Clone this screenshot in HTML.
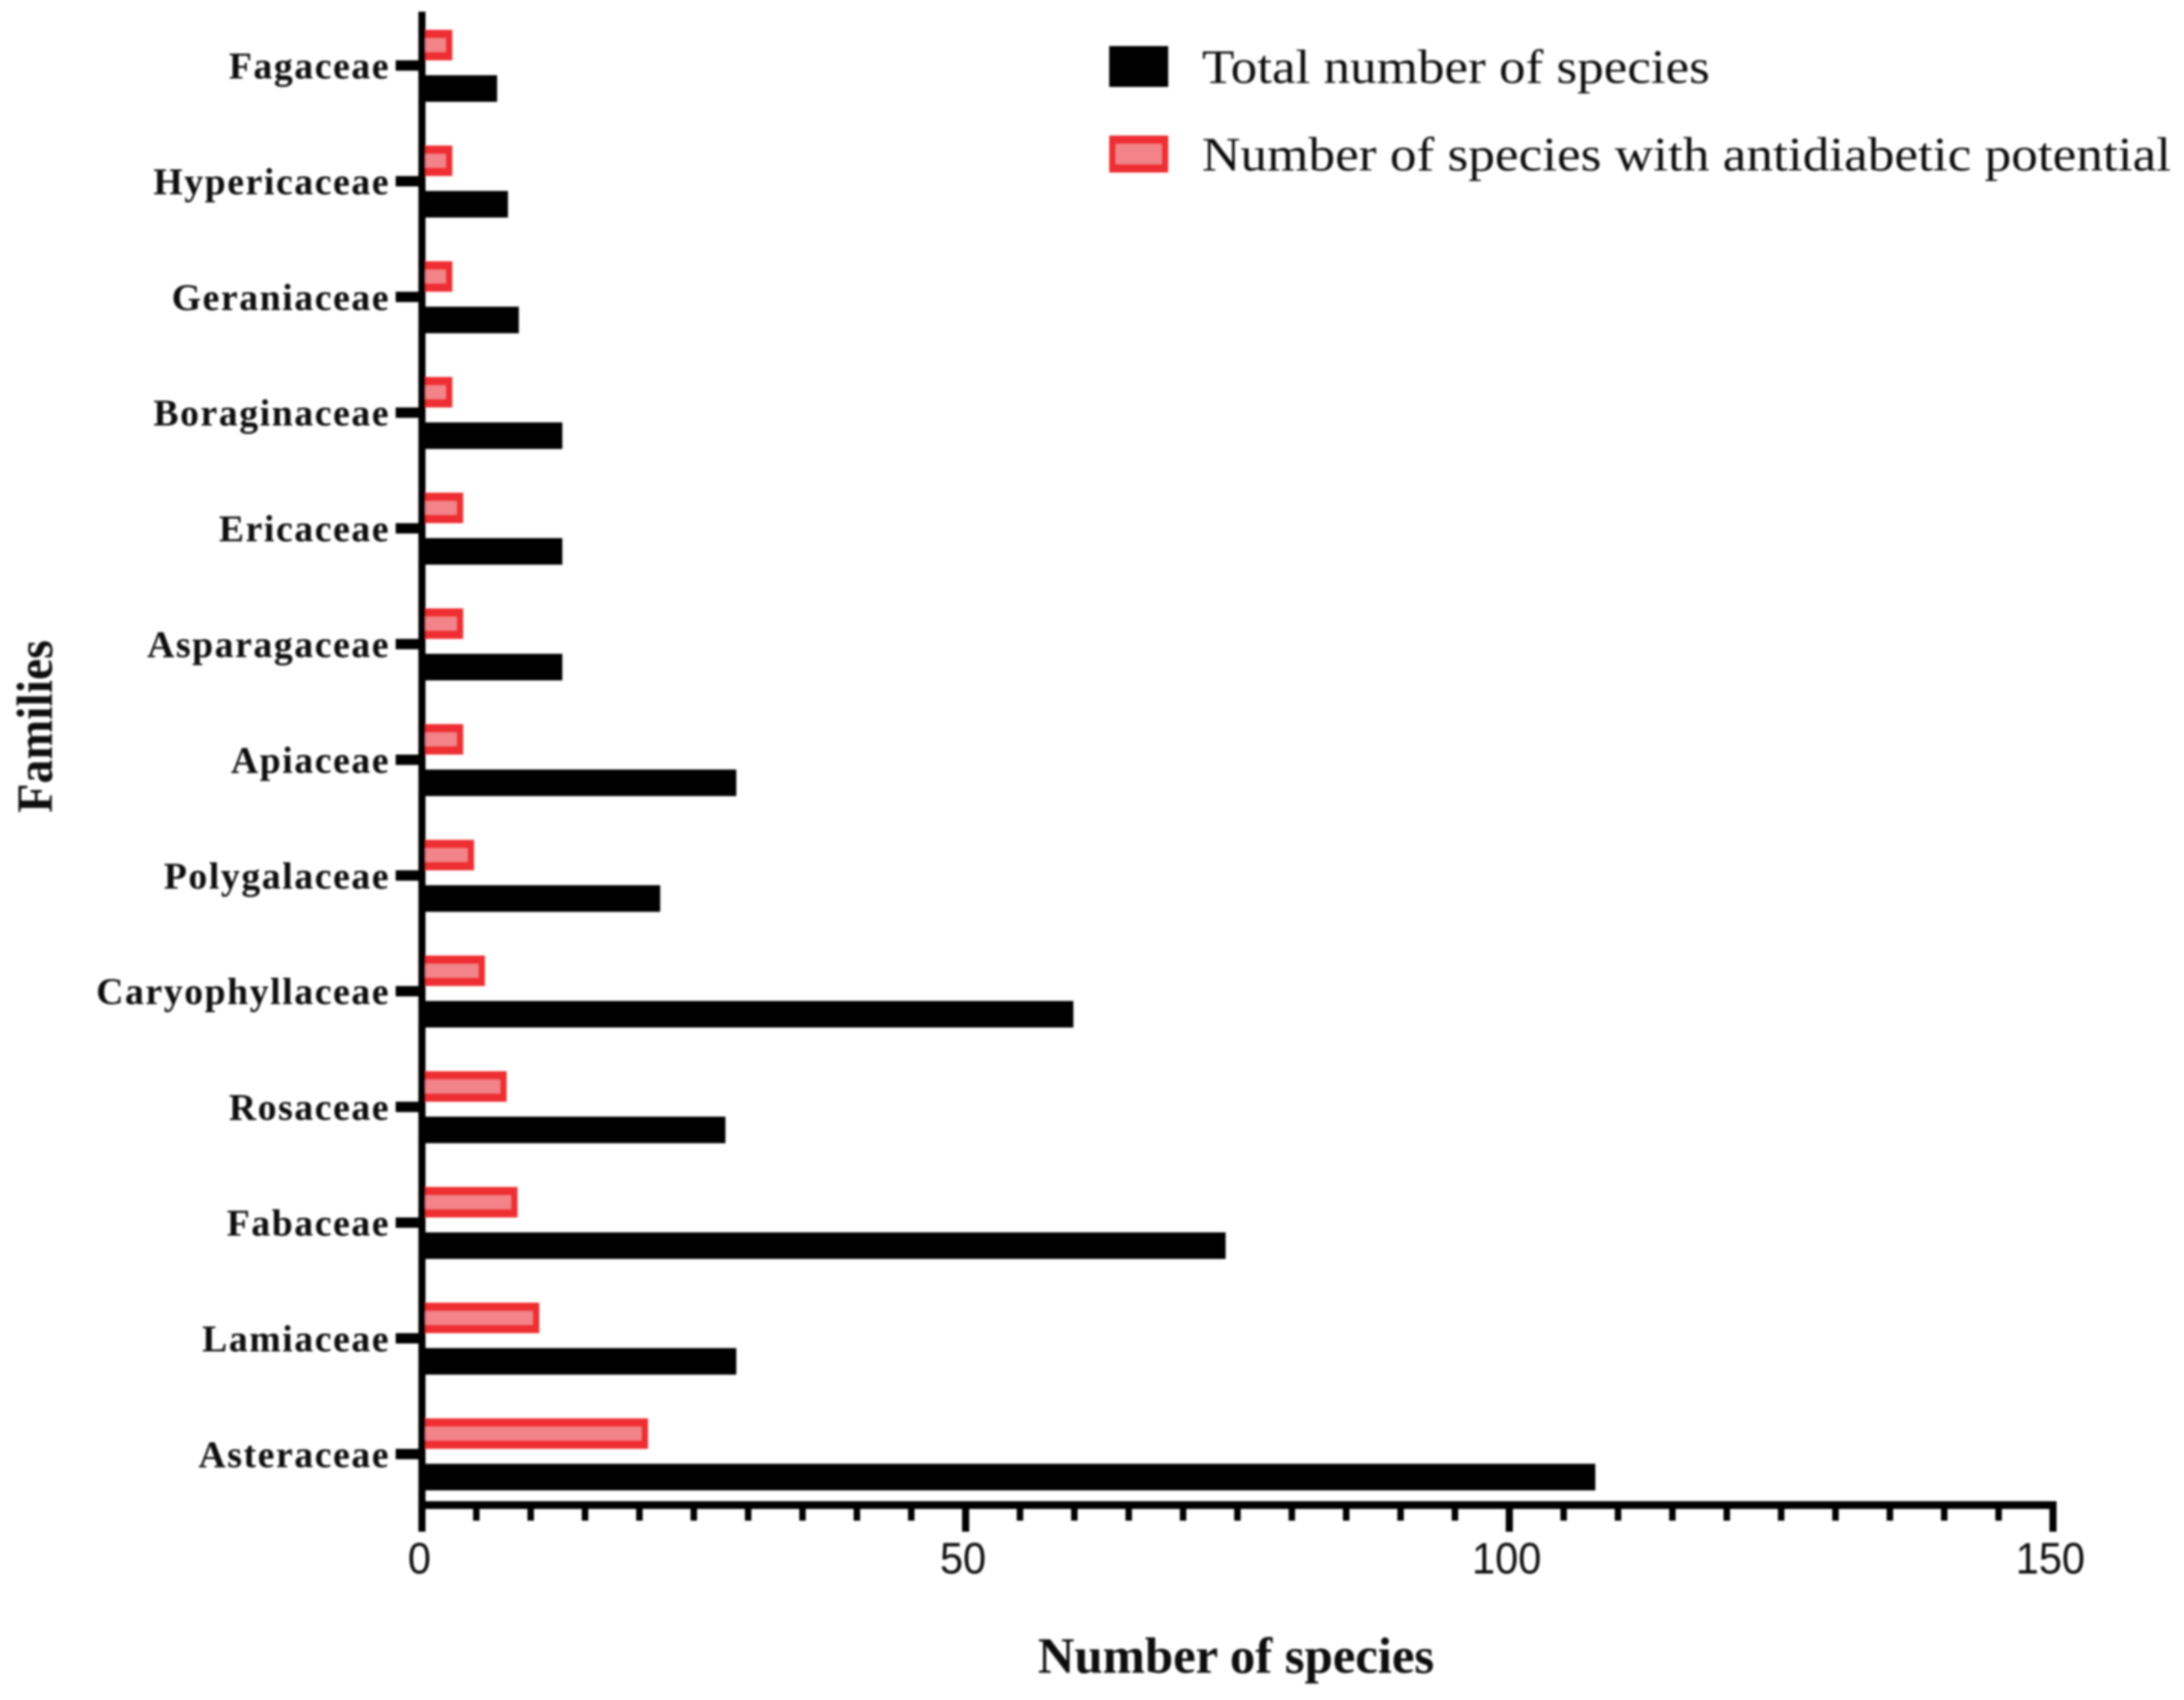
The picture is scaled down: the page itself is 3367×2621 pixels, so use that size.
<!DOCTYPE html>
<html lang="en">
<head>
<meta charset="utf-8">
<title>Species per plant family</title>
<style>
html,body{margin:0;padding:0;background:#fff;}
svg{display:block;}
text{fill:#080808;}
.family{font:bold 58px "Liberation Serif",serif;letter-spacing:2.5px;text-anchor:end;}
.tick{font:68px "Liberation Sans",sans-serif;text-anchor:middle;}
.title{font:bold 78px "Liberation Serif",serif;}
.legend{font:74px "Liberation Serif",serif;fill:#111;}
</style>
</head>
<body>
<svg id="chart" xmlns="http://www.w3.org/2000/svg" width="3367" height="2621" viewBox="0 0 3367 2621">
<defs><filter id="soft" x="-2%" y="-2%" width="104%" height="104%"><feGaussianBlur stdDeviation="1.6"/></filter></defs>
<rect width="3367" height="2621" fill="#ffffff"/>
<g id="plot" filter="url(#soft)"></g>
</svg>
<script>
const families = ["Fagaceae","Hypericaceae","Geraniaceae","Boraginaceae","Ericaceae","Asparagaceae","Apiaceae","Polygalaceae","Caryophyllaceae","Rosaceae","Fabaceae","Lamiaceae","Asteraceae"];
const totalSpecies = [7,8,9,13,13,13,29,22,60,28,74,29,108];
const antidiabeticSpecies = [3,3,3,3,4,4,4,5,6,8,9,11,21];
const xTickLabels = [0,50,100,150];
const xMinorStep = 5;
const xAxisTitle = "Number of species";
const yAxisTitle = "Families";
const legendTotal = "Total number of species";
const legendAntidiabetic = "Number of species with antidiabetic potential";

const NS = "http://www.w3.org/2000/svg";
const plot = document.getElementById("plot");
const X0 = 650.5, X150 = 3165, Y0 = 101, ROW = 178.4, AXIS_Y = 2320.5;
const BLACK = "#040504", RED = "#ee2e33", PINK = "#f28489";
function xScale(v){ return X0 + v * (X150 - X0) / 150; }
function yScale(i){ return Y0 + i * ROW; }
function make(tag, attrs, text){
  const el = document.createElementNS(NS, tag);
  for (const k in attrs) el.setAttribute(k, attrs[k]);
  if (text !== undefined) el.textContent = text;
  plot.appendChild(el);
  return el;
}

families.forEach(function(name, i){
  const y = yScale(i);
  const slug = name.toLowerCase();

  const totalBar = make("rect", {x:X0, y:y+15, width:xScale(totalSpecies[i])-1.5-X0, height:41, fill:BLACK});
  
  

  const right = xScale(antidiabeticSpecies[i]) - 3.5;
  const redBar = make("rect", {x:X0, y:y-55, width:right-X0, height:47, fill:RED});
  
  

  const redFill = make("rect", {x:X0, y:y-42, width:Math.max(0,right-10-X0), height:21, fill:PINK});
  
  

  const tick = make("rect", {x:610, y:y-8, width:40, height:16, fill:BLACK});
  
  

  const label = make("text", {x:601.5, y:y+20, "class":"family"}, name);
  
  
});

const yAxis = make("rect", {x:X0-5.5, y:18, width:11, height:2343, fill:BLACK});



const xAxis = make("rect", {x:X0-5.5, y:AXIS_Y-6, width:xScale(150)-X0+11, height:12, fill:BLACK});



const xMax = xTickLabels[xTickLabels.length-1];
for (let v = xMinorStep; v < xMax; v += xMinorStep) {
  if (xTickLabels.indexOf(v) !== -1) continue;
  const minor = make("rect", {x:xScale(v)-5, y:AXIS_Y, width:10, height:24, fill:BLACK});
  
  
}
xTickLabels.forEach(function(v){
  const major = make("rect", {x:xScale(v)-5.5, y:AXIS_Y, width:11, height:41, fill:BLACK});
  
  

  const label = make("text", {x:xScale(v)-4, y:2426, "class":"tick", textLength:String(v).length*35.6, lengthAdjust:"spacingAndGlyphs"}, String(v));
  
  
});

const xTitle = make("text", {x:1600, y:2579, "class":"title", textLength:611, lengthAdjust:"spacingAndGlyphs"}, xAxisTitle);



const yTitle = make("text", {x:0, y:0, "class":"title", textLength:266, lengthAdjust:"spacingAndGlyphs", transform:"translate(80 1253) rotate(-90)"}, yAxisTitle);



const swatchTotal = make("rect", {x:1710, y:71, width:91, height:63, fill:BLACK});



const legendTextTotal = make("text", {x:1853, y:128, "class":"legend", textLength:783, lengthAdjust:"spacingAndGlyphs"}, legendTotal);



const swatchRed = make("rect", {x:1710, y:209, width:91, height:57, fill:RED});



const swatchPink = make("rect", {x:1720, y:222, width:71, height:31, fill:PINK});



const legendTextRed = make("text", {x:1853, y:263, "class":"legend", textLength:1494, lengthAdjust:"spacingAndGlyphs"}, legendAntidiabetic);


</script>
</body>
</html>
